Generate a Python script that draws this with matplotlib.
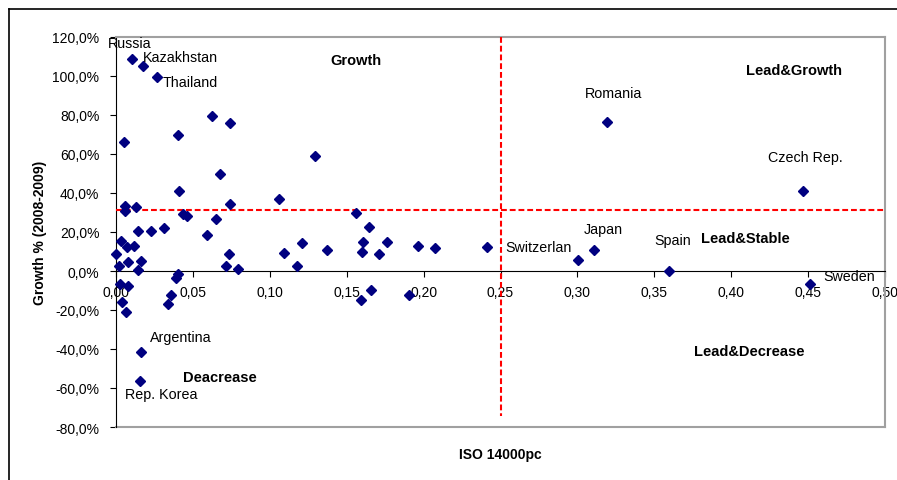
#!/usr/bin/env python3

import matplotlib
matplotlib.use('Agg')
import matplotlib.pyplot as plt
import matplotlib.ticker as ticker
from matplotlib.lines import Line2D

# ISO 14000 per capita vs growth 2008-2009
iso_pc = [0.0102, 0.0178, 0.0269, 0.0625, 0.0742, 0.0054, 0.0401, 0.0679,
          0.0408, 0.0742, 0.1057, 0.0059, 0.0059, 0.0128, 0.0434, 0.0464,
          0.0653, 0.0590, 0.0313, 0.0226, 0.0145, 0.0030, 0.0074, 0.0119,
          0.0000, 0.0076, 0.0022, 0.0163, 0.0145, 0.0734, 0.0715, 0.0795,
          0.0400, 0.0390, 0.0028, 0.0076, 0.0356, 0.0336, 0.0036, 0.0065,
          0.0163, 0.0156, 0.1296, 0.1093, 0.1209, 0.1180, 0.1372, 0.1558,
          0.1647, 0.1604, 0.1602, 0.1762, 0.1710, 0.1964, 0.2072, 0.2409,
          0.1656, 0.1593, 0.1908, 0.3192, 0.4466, 0.3006, 0.3108, 0.3598,
          0.4512]
growth = [1.087, 1.051, 0.995, 0.793, 0.757, 0.660, 0.696, 0.498,
          0.409, 0.345, 0.367, 0.334, 0.306, 0.326, 0.292, 0.280,
          0.268, 0.186, 0.219, 0.203, 0.203, 0.156, 0.121, 0.128,
          0.087, 0.044, 0.024, 0.053, 0.005, 0.086, 0.024, 0.008,
          -0.017, -0.034, -0.066, -0.075, -0.124, -0.167, -0.159, -0.209,
          -0.417, -0.566, 0.591, 0.092, 0.143, 0.024, 0.108, 0.296,
          0.227, 0.150, 0.099, 0.150, 0.085, 0.130, 0.116, 0.122,
          -0.097, -0.147, -0.123, 0.766, 0.408, 0.058, 0.108, 0.002,
          -0.067]

# country labels (text, x, y of the label itself)
country_labels = [('Russia', -0.0052, 1.169), ('Kazakhstan', 0.0175, 1.097),
                  ('Thailand', 0.0306, 0.969), ('Argentina', 0.0221, -0.338),
                  ('Rep. Korea', 0.0059, -0.631), ('Romania', 0.3047, 0.913),
                  ('Czech Rep.', 0.4238, 0.585), ('Switzerlan', 0.2533, 0.123),
                  ('Japan', 0.3040, 0.215), ('Spain', 0.3503, 0.159),
                  ('Sweden', 0.4596, -0.026)]

# quadrant labels (text, centre x, centre y)
quadrant_labels = [('Growth', 0.1563, 1.082), ('Lead&Growth', 0.4411, 1.031),
                   ('Lead&Stable', 0.4089, 0.169), ('Lead&Decrease', 0.4115, -0.410),
                   ('Deacrease', 0.0677, -0.544)]

x_split = 0.25
y_split = 0.314

plt.rcParams['font.family'] = ['Liberation Sans', 'DejaVu Sans']
plt.rcParams['font.size'] = 10

fig = plt.figure(figsize=(8.97, 4.81), dpi=100)
ax = fig.add_axes([116 / 897, 1 - 428 / 481, 769 / 897, 390 / 481])

ax.plot(iso_pc, growth, linestyle='none', marker='D', markersize=5.5,
        color='#000080', zorder=4, clip_on=False)

# split lines
ax.axhline(y_split, color='red', lw=1.5, dashes=(2.8, 1.4), zorder=3)
ax.plot([x_split, x_split], [1.2, -0.745], color='red', lw=1.5,
        dashes=(2.8, 1.4), zorder=3)

for txt, x, y in country_labels:
    ax.text(x, y, txt, ha='left', va='center', fontsize=10.3, clip_on=False, zorder=5)
for txt, x, y in quadrant_labels:
    ax.text(x, y, txt, ha='center', va='center', fontsize=10.5,
            fontweight='bold', zorder=5)

ax.set_xlim(0, 0.5)
ax.set_ylim(-0.8, 1.2)
ax.xaxis.set_major_locator(ticker.MultipleLocator(0.05))
ax.yaxis.set_major_locator(ticker.MultipleLocator(0.2))
ax.xaxis.set_major_formatter(ticker.FuncFormatter(lambda v, p: ('%.2f' % v).replace('.', ',')))
ax.yaxis.set_major_formatter(ticker.FuncFormatter(lambda v, p: ('%.1f%%' % (v * 100)).replace('.', ',')))

# x axis crosses at zero, plot area border in grey
ax.spines['bottom'].set_position(('data', 0))
ax.spines['bottom'].set_color('black')
ax.spines['left'].set_color('black')
for s in ['top', 'right']:
    ax.spines[s].set_color('#a0a0a0')
    ax.spines[s].set_linewidth(1.5)
ax.plot([0, 0.5], [-0.8, -0.8], color='#a0a0a0', lw=1.5, clip_on=False, zorder=2)

ax.tick_params(axis='y', direction='out', length=4, pad=8, labelsize=10)
ax.tick_params(axis='x', direction='out', length=4, pad=6, labelsize=10)

ax.set_ylabel('Growth % (2008-2009)', fontweight='bold', fontsize=10, labelpad=4)
fig.text(500 / 897, 1 - 455 / 481, 'ISO 14000pc', ha='center', va='center',
         fontweight='bold', fontsize=10)

# outer chart frame (cut off at right and bottom)
fig.add_artist(Line2D([9 / 897, 1], [1 - 10 / 481, 1 - 10 / 481], color='black', lw=1.2))
fig.add_artist(Line2D([9 / 897, 9 / 897], [0, 1 - 10 / 481], color='black', lw=1.2))

fig.savefig('out.png', dpi=100)
